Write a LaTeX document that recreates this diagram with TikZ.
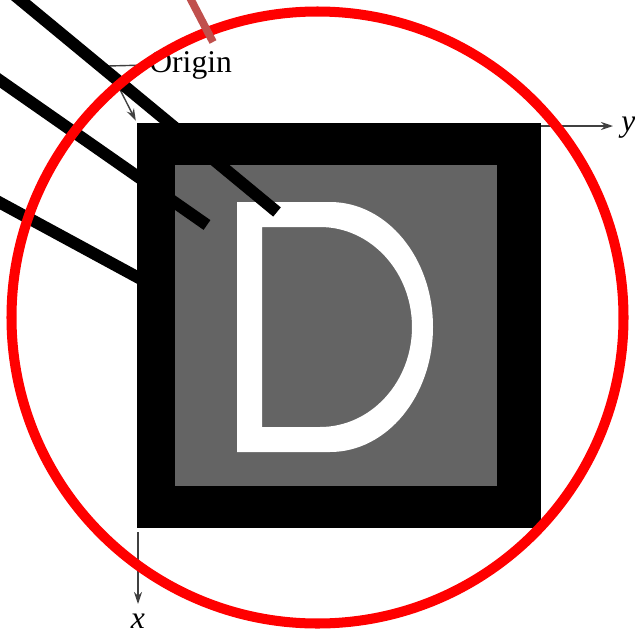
\documentclass[tikz,border=0pt]{standalone}
\usepackage{fontspec}
\setmainfont{Liberation Serif}
\usepackage{xcolor}
\definecolor{ring}{HTML}{FF0000}
\definecolor{rust}{HTML}{C0504D}
\definecolor{plate}{HTML}{646464}
\definecolor{mute}{HTML}{404040}
\usetikzlibrary{arrows.meta,positioning}
\tikzset{
  >={Stealth[length=2.4mm,width=1.6mm]},
  lbl/.style={font=\fontsize{18}{20}\selectfont,inner sep=0pt},
  axis/.style={->,draw=mute,line width=0.85pt},
  callout/.style={->,draw=mute,line width=0.8pt,shorten >=1.5pt},
  bar/.style={draw=black,line width=6.8pt},
  ringline/.style={draw=ring,line width=5.7pt},
  rustbar/.style={draw=rust,line width=4.4pt},
}

\begin{document}
\begin{tikzpicture}[x=0.02cm,y=-0.02cm]
\useasboundingbox (0,0) rectangle (635,636);
% image frame
\coordinate (tl) at (137,123);
\coordinate (br) at (541,528);
\fill[black] (tl) rectangle (br);
\fill[plate] (175,165) rectangle (497,486);
% letter D
\fill[white,even odd rule]
  (237,202) -- (330,202) .. controls (387,202) and (433,258) .. (433,327)
  .. controls (433,396) and (387,452) .. (330,452) -- (237,452) -- cycle
  (262,227) -- (320,227) .. controls (371,227) and (412,272) .. (412,327)
  .. controls (412,382) and (371,427) .. (320,427) -- (262,427) -- cycle;
% origin callout
\node[lbl,anchor=base west] (orig) at (149,72) {Origin};
\coordinate (elbow) at (108,66);
\draw[callout] (orig.west) -- (elbow) -- (tl);
% axes
\coordinate (ybase) at (541,126);
\coordinate (ytip) at (613,126);
\node[lbl,anchor=west] (ylab) at (621,128) {\textit{y}};
\draw[axis] (ybase) -- (ytip);
\coordinate (xbase) at (138,532);
\coordinate (xtip) at (138,604);
\node[lbl] (xlab) at (138,621) {\textit{x}};
\draw[axis] (xbase) -- (xtip);
% pointer strokes
\coordinate (s1a) at (-5,-21);
\coordinate (s1b) at (277,212);
\coordinate (s2a) at (-5,77);
\coordinate (s2b) at (207,225);
\coordinate (s3a) at (-5,200);
\coordinate (s3b) at (150,284);
\draw[bar] (s1a) -- (s1b);
\draw[bar] (s2a) -- (s2b);
\draw[bar] (s3a) -- (s3b);
% red ring
\draw[ringline] (317.5,317.5) circle[radius=306];
\coordinate (r1a) at (188,-6);
\coordinate (r1b) at (213,42);
\draw[rustbar] (r1a) -- (r1b);
\end{tikzpicture}
\end{document}
